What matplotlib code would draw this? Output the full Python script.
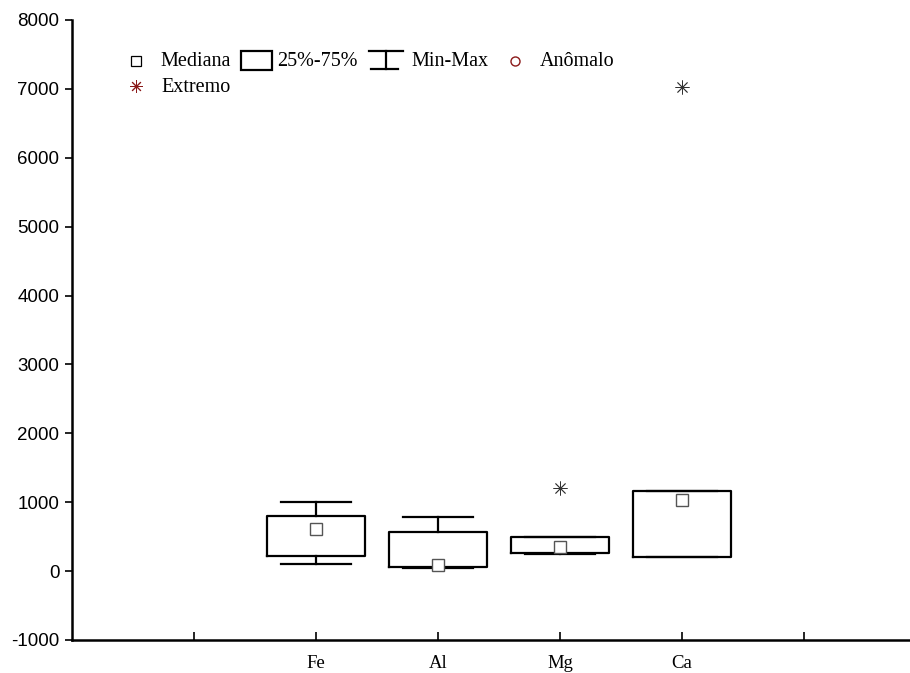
import numpy as np
import matplotlib
matplotlib.use('Agg')
import matplotlib.pyplot as plt
from matplotlib.patches import Rectangle
from matplotlib.lines import Line2D

##-------------------------------------------------------------------------
## Data
##-------------------------------------------------------------------------
elements = ['Fe', 'Al', 'Mg', 'Ca']
positions = [2, 3, 4, 5]
medians = [610, 87, 348, 1035]
q1 = [222, 58, 261, 203]
q3 = [798, 566, 493, 1161]
mins = [106, 40, 247, 203]
maxs = [1001, 784, 493, 1161]
extremes = [[], [], [1200], [7025]]

yticks = [-1000, 0, 1000, 2000, 3000, 4000, 5000, 6000, 7000, 8000]
legend_labels = ['Mediana', '25%-75%', 'Min-Max', 'Anômalo', 'Extremo']

W, H = 910, 673
dpi = 100
fig = plt.figure(figsize=(W / dpi, H / dpi), dpi=dpi)


def px(x, y):
    """ pixel position (from top-left) -> figure fraction """
    return x / W, 1 - y / H


ax_left, ax_top = px(72, 20)
_, ax_bot = px(72, 640)
ax = fig.add_axes([ax_left, ax_bot, 1 - ax_left, ax_top - ax_bot])

##-------------------------------------------------------------------------
## Boxes
##-------------------------------------------------------------------------
stats = []
for i in range(len(elements)):
    stats.append({'med': medians[i], 'q1': q1[i], 'q3': q3[i],
                  'whislo': mins[i], 'whishi': maxs[i],
                  'fliers': extremes[i], 'label': elements[i]})

lw = 1.6
ax.bxp(stats, positions=positions, widths=0.8, capwidths=0.57,
       showfliers=True, patch_artist=False,
       boxprops=dict(color='black', linewidth=lw),
       whiskerprops=dict(color='black', linewidth=lw),
       capprops=dict(color='black', linewidth=lw),
       medianprops=dict(linewidth=0),
       flierprops=dict(marker=(8, 2, 0), markersize=10, markeredgecolor='#333333',
                       markeredgewidth=0.6, linestyle='none'))

ax.plot(positions, medians, 's', markersize=8, markerfacecolor='white',
        markeredgecolor='#555555', markeredgewidth=1.0, linestyle='none', zorder=5)

##-------------------------------------------------------------------------
## Axes styling
##-------------------------------------------------------------------------
ax.set_xlim(0, (W - 72) / 122.0)
ax.set_ylim(-1000, 8000)
ax.set_xticks([1, 2, 3, 4, 5, 6])
ax.set_xticklabels(['', 'Fe', 'Al', 'Mg', 'Ca', ''],
                   fontfamily='Liberation Serif', fontsize=13.5)
ax.set_yticks(yticks)
ax.set_yticklabels([str(v) for v in yticks], fontfamily='Liberation Sans', fontsize=13.5)
ax.tick_params(axis='x', direction='in', length=6, width=1.2, pad=11)
ax.tick_params(axis='y', direction='out', length=5, width=1.2, pad=4)
for side in ['top', 'right']:
    ax.spines[side].set_visible(False)
for side in ['left', 'bottom']:
    ax.spines[side].set_linewidth(1.8)

##-------------------------------------------------------------------------
## Legend (drawn by hand, like the Statistica one)
##-------------------------------------------------------------------------
dark_red = '#8b1a1a'
tfont = dict(fontfamily='Liberation Serif', fontsize=14.5, va='center', ha='left')

fig.add_artist(Line2D([px(136, 61)[0]], [px(136, 61)[1]], marker='s', markersize=6.5,
                      markerfacecolor='white', markeredgecolor='black',
                      markeredgewidth=0.9, linestyle='none'))
fig.text(*px(160, 62), legend_labels[0], **tfont)

x0, y0 = px(241, 70)
x1, y1 = px(272, 51)
fig.add_artist(Rectangle((x0, y0), x1 - x0, y1 - y0, transform=fig.transFigure,
                         fill=False, edgecolor='black', linewidth=1.6))
fig.text(*px(277, 62), legend_labels[1], **tfont)

for (xa, ya), (xb, yb) in [((369, 51), (403, 51)), ((386, 51), (386, 69)),
                           ((371, 69), (398, 69))]:
    fa, fb = px(xa, ya), px(xb, yb)
    fig.add_artist(Line2D([fa[0], fb[0]], [fa[1], fb[1]], color='black', linewidth=1.6))
fig.text(*px(411, 62), legend_labels[2], **tfont)

fig.add_artist(Line2D([px(515, 61)[0]], [px(515, 61)[1]], marker='o', markersize=6.5,
                      markerfacecolor='none', markeredgecolor=dark_red,
                      markeredgewidth=1.0, linestyle='none'))
fig.text(*px(540, 62), legend_labels[3], **tfont)

fig.add_artist(Line2D([px(136, 86)[0]], [px(136, 86)[1]], marker=(8, 2, 0), markersize=9,
                      markeredgecolor=dark_red, markeredgewidth=0.7, linestyle='none'))
fig.text(*px(161, 87), legend_labels[4], **tfont)

plt.savefig('out.png', dpi=dpi)
